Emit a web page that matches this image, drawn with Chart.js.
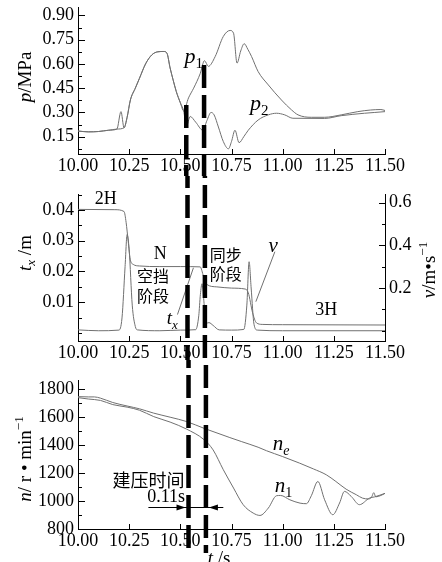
<!DOCTYPE html>
<html>
<head>
<meta charset="utf-8">
<script src="https://cdn.jsdelivr.net/npm/chart.js@4.4.0/dist/chart.umd.min.js"></script>
<style>
html, body { margin: 0; padding: 0; background: #fff; }
#wrap { position: relative; width: 442px; height: 562px; overflow: hidden; }
canvas { position: absolute; left: 0; }
</style>
</head>
<body>
<div id="wrap">
  <canvas id="c1" width="442" height="176" style="top:0px"></canvas>
  <canvas id="c2" width="442" height="184" style="top:176px"></canvas>
  <canvas id="c3" width="442" height="202" style="top:360px"></canvas>
</div>
<script>
// ---- data ----
// top panel: oil pressure p1 / p2 (MPa)
const p1Time = [10.00, 10.05, 10.10, 10.15, 10.19, 10.225, 10.24, 10.256, 10.28, 10.30, 10.33, 10.36, 10.39, 10.42, 10.435, 10.45, 10.465, 10.48, 10.50, 10.516,
  10.54, 10.565, 10.597, 10.618, 10.637, 10.67, 10.71, 10.743, 10.76, 10.777, 10.795, 10.812, 10.83, 10.848, 10.88, 10.93, 10.994, 11.043, 11.075, 11.14, 11.205, 11.286, 11.367, 11.43, 11.48, 11.50];
const p1Vals = [0.185, 0.18, 0.182, 0.19, 0.197, 0.205, 0.27, 0.377, 0.45, 0.51, 0.60, 0.655, 0.675, 0.677, 0.665, 0.575, 0.50, 0.43, 0.36, 0.31,
  0.39, 0.45, 0.54, 0.62, 0.585, 0.645, 0.77, 0.807, 0.79, 0.605, 0.68, 0.725, 0.69, 0.646, 0.553, 0.47, 0.377, 0.316, 0.285, 0.27, 0.27, 0.285, 0.305, 0.315, 0.318, 0.312];
const p2Time = [10.00, 10.05, 10.10, 10.15, 10.19, 10.21, 10.225, 10.24, 10.256, 10.28, 10.30, 10.33, 10.36, 10.39, 10.42, 10.435, 10.45, 10.465, 10.48, 10.50, 10.516,
  10.53, 10.548, 10.575, 10.61, 10.63, 10.65, 10.665, 10.686, 10.71, 10.735, 10.75, 10.767, 10.787, 10.81, 10.832, 10.88, 10.93, 10.97, 11.01, 11.05, 11.205, 11.286, 11.40, 11.45, 11.50];
const p2Vals = [0.185, 0.18, 0.182, 0.19, 0.197, 0.305, 0.205, 0.27, 0.377, 0.45, 0.51, 0.60, 0.655, 0.675, 0.677, 0.665, 0.575, 0.50, 0.43, 0.36, 0.31,
  0.215, 0.275, 0.24, 0.19, 0.25, 0.30, 0.285, 0.21, 0.12, 0.075, 0.12, 0.19, 0.113, 0.15, 0.19, 0.253, 0.285, 0.295, 0.285, 0.264, 0.263, 0.28, 0.295, 0.30, 0.305];

// middle panel: fork travel tx (m) and fork speed v (m/s)
const txTime = [10.00, 10.18, 10.225, 10.235, 10.245, 10.255, 10.27, 10.30, 10.40, 10.50, 10.597, 10.613, 10.629, 10.678, 10.75, 10.816, 10.832, 10.853, 10.872, 10.90, 11.00, 11.50];
const txVals = [0.0402, 0.0401, 0.0395, 0.036, 0.030, 0.024, 0.0223, 0.0218, 0.0216, 0.0216, 0.0215, 0.0185, 0.0158, 0.015, 0.0146, 0.0143, 0.0131, 0.0066, 0.0033, 0.0028, 0.0027, 0.0026];
const vTime = [10.00, 10.10, 10.20, 10.215, 10.23, 10.24, 10.25, 10.265, 10.28, 10.29, 10.40, 10.50, 10.575, 10.59, 10.598, 10.606, 10.614, 10.625, 10.64, 10.66, 10.69, 10.75, 10.81, 10.825, 10.836, 10.846, 10.86, 10.876, 11.00, 11.50];
const vVals = [0.004, 0.0, 0.003, 0.06, 0.30, 0.45, 0.38, 0.12, 0.02, 0.004, 0.0, 0.003, 0.005, 0.07, 0.17, 0.22, 0.15, 0.035, 0.038, 0.025, 0.004, 0.003, 0.006, 0.12, 0.323, 0.20, 0.03, 0.003, 0.0, 0.0];

// bottom panel: engine speed ne and input shaft speed n1 (r/min)
const neTime = [10.00, 10.05, 10.08, 10.11, 10.17, 10.24, 10.30, 10.37, 10.45, 10.53, 10.62, 10.742, 10.80, 10.88, 10.921, 11.00, 11.083, 11.15, 11.213, 11.26, 11.31, 11.36, 11.39, 11.42, 11.435, 11.445, 11.455, 11.48, 11.50];
const neVals = [1747, 1745, 1745, 1736, 1705, 1680, 1660, 1629, 1600, 1569, 1518, 1454, 1425, 1385, 1360, 1318, 1271, 1230, 1188, 1140, 1085, 1045, 1021, 1015, 1030, 1060, 1030, 1040, 1055];
const n1Time = [10.00, 10.05, 10.11, 10.17, 10.24, 10.30, 10.37, 10.45, 10.53, 10.615, 10.66, 10.71, 10.76, 10.807, 10.856, 10.889, 10.93, 10.97, 10.99, 11.035, 11.085, 11.116, 11.14, 11.172, 11.205, 11.245, 11.278, 11.302, 11.335, 11.375, 11.424, 11.45, 11.50];
const n1Vals = [1740, 1730, 1720, 1690, 1672, 1650, 1604, 1565, 1515, 1440, 1366, 1224, 1093, 974, 914, 897, 950, 1038, 1040, 1009, 985, 981, 1038, 1140, 1009, 902, 986, 1069, 1033, 974, 1021, 1030, 1055];

// tick labels
const tTicks = [10.00, 10.25, 10.50, 10.75, 11.00, 11.25, 11.50];
const pTicks = [0.15, 0.30, 0.45, 0.60, 0.75, 0.90];
const pMinor = [0.075, 0.225, 0.375, 0.525, 0.675, 0.825];
const txTicks = [0.01, 0.02, 0.03, 0.04];
const txMinor = [0, 0.005, 0.015, 0.025, 0.035, 0.045];
const vTicks = [0.2, 0.4, 0.6];
const vMinor = [0, 0.1, 0.3, 0.5];
const nTicks = [800, 1000, 1200, 1400, 1600, 1800];
const nMinor = [900, 1100, 1300, 1500, 1700];

// the two moments marked by the thick dashed lines (s)
const markTimes = [[10.529, 10.616], [10.535, 10.62], [10.54, 10.625]];

const SERIF = '"Liberation Serif", "Times New Roman", serif';
const CJK = '"Noto Sans CJK SC", sans-serif';
const LINE = '#707070';

Chart.defaults.font.family = SERIF;
Chart.defaults.color = '#000';

const pts = (ts, vs) => ts.map((t, i) => ({ x: t, y: vs[i] }));

function ds(ts, vs, axis) {
  return {
    data: pts(ts, vs), yAxisID: axis,
    borderColor: LINE, borderWidth: 1, pointRadius: 0,
    cubicInterpolationMode: 'monotone', fill: false
  };
}

function xScale(h) {
  return {
    type: 'linear', min: 10, max: 11.5,
    grid: { drawOnChartArea: false, drawTicks: false },
    border: { color: '#000', width: 1 },
    ticks: { font: { size: 18 }, color: '#000', padding: 1, maxRotation: 0, autoSkip: false, callback: v => v.toFixed(2) },
    afterBuildTicks: s => { s.ticks = tTicks.map(v => ({ value: v })); },
    afterFit: s => { s.height = h; s.paddingLeft = 0; s.paddingRight = 0; }
  };
}

function yScale(pos, min, max, ticks, fmt, w) {
  return {
    type: 'linear', position: pos, min: min, max: max,
    grid: { drawOnChartArea: false, drawTicks: false },
    border: { color: '#000', width: 1 },
    ticks: { font: { size: 18 }, color: '#000', padding: 4, callback: fmt },
    afterBuildTicks: s => { s.ticks = ticks.map(v => ({ value: v })); },
    afterFit: s => { s.width = w; s.paddingTop = 0; s.paddingBottom = 0; }
  };
}

// draw a string made of parts (italic / subscript / superscript), vertically centred on y
function rich(ctx, parts, x, y, size, align) {
  const fonts = parts.map(p => {
    const s = (p.sub || p.sup) ? Math.round(size * 0.68) : size;
    return (p.it ? 'italic ' : '') + s + 'px ' + (p.cjk ? CJK : SERIF);
  });
  let w = 0;
  const ws = parts.map((p, i) => { ctx.font = fonts[i]; const m = ctx.measureText(p.t).width; w += m; return m; });
  let cx = align === 'center' ? x - w / 2 : x;
  ctx.textAlign = 'left';
  ctx.textBaseline = 'middle';
  parts.forEach((p, i) => {
    ctx.font = fonts[i];
    const dy = p.sub ? size * 0.3 : (p.sup ? -size * 0.35 : 0);
    ctx.fillText(p.t, cx, y + dy);
    cx += ws[i];
  });
}

const dashStart = [];

const decor = {
  id: 'decor',
  afterDraw(chart, args, o) {
    const ctx = chart.ctx, area = chart.chartArea, xs = chart.scales.x;
    ctx.save();

    // inward tick marks
    ctx.strokeStyle = '#000';
    ctx.lineWidth = 1;
    Object.keys(chart.scales).forEach(id => {
      const s = chart.scales[id];
      const mark = (v, len) => {
        const p = Math.round(s.getPixelForValue(v)) + 0.5;
        ctx.beginPath();
        if (s.isHorizontal()) { ctx.moveTo(p, area.bottom); ctx.lineTo(p, area.bottom - len); }
        else if (s.position === 'left') { ctx.moveTo(area.left, p); ctx.lineTo(area.left + len, p); }
        else { ctx.moveTo(area.right, p); ctx.lineTo(area.right - len, p); }
        ctx.stroke();
      };
      const major = s.isHorizontal() ? 5 : (s.position === 'left' ? 7 : 6);
      s.ticks.forEach(t => mark(t.value, major));
      ((o.minor && o.minor[id]) || []).forEach(v => mark(v, s.position === 'left' ? 4 : 3));
    });

    // leader lines
    ctx.strokeStyle = LINE;
    (o.leaders || []).forEach(l => {
      const ys = chart.scales[l.axis];
      ctx.beginPath();
      ctx.moveTo(xs.getPixelForValue(l.x1), ys.getPixelForValue(l.y1));
      ctx.lineTo(xs.getPixelForValue(l.x2), ys.getPixelForValue(l.y2));
      ctx.stroke();
    });

    // curve names and notes
    ctx.fillStyle = '#000';
    (o.texts || []).forEach(t => {
      const ys = chart.scales[t.axis || 'y'];
      rich(ctx, t.parts, xs.getPixelForValue(t.x), ys.getPixelForValue(t.y), t.size, t.align || 'center');
    });

    // axis titles
    (o.titles || []).forEach(t => {
      ctx.save();
      ctx.translate(t.x, t.y);
      if (t.rot) ctx.rotate(t.rot);
      rich(ctx, t.parts, 0, 0, t.size, 'center');
      ctx.restore();
    });

    // build-up time arrows
    if (o.arrow) {
      const a = o.arrow, ys = chart.scales.y;
      const y = Math.round(ys.getPixelForValue(a.y)) + 0.5;
      const tl = xs.getPixelForValue(a.tipL) - 3, tr = xs.getPixelForValue(a.tipR) + 3;
      ctx.strokeStyle = '#000';
      ctx.beginPath();
      ctx.moveTo(xs.getPixelForValue(a.from), y);
      ctx.lineTo(xs.getPixelForValue(a.to), y);
      ctx.stroke();
      ctx.beginPath();
      ctx.moveTo(tl, y); ctx.lineTo(tl - 9, y - 3); ctx.lineTo(tl - 9, y + 3); ctx.closePath();
      ctx.moveTo(tr, y); ctx.lineTo(tr + 9, y - 3); ctx.lineTo(tr + 9, y + 3); ctx.closePath();
      ctx.fill();
    }

    // thick dashed marker lines
    ctx.strokeStyle = '#000';
    ctx.lineWidth = 4.5;
    ctx.lineCap = 'butt';
    ctx.setLineDash([23, 7]);
    o.dash.times.forEach((t, i) => {
      const x = xs.getPixelForValue(t);
      const y0 = o.dash.from ? chart.scales.y.getPixelForValue(o.dash.from[i]) : 0;
      if (dashStart[i] === undefined) dashStart[i] = o.pageTop + y0;
      ctx.lineDashOffset = o.pageTop + y0 - dashStart[i];
      ctx.beginPath();
      ctx.moveTo(x, y0);
      ctx.lineTo(x, chart.height - (o.dash.endGap || 0));
      ctx.stroke();
    });
    ctx.restore();
  }
};

function baseOptions(top, right, scales, decorOpts) {
  return {
    responsive: false, animation: false, devicePixelRatio: 1,
    layout: { padding: { top: top, right: right, left: 0, bottom: 0 } },
    plugins: { legend: { display: false }, tooltip: { enabled: false }, decor: decorOpts },
    scales: scales
  };
}

const it = t => ({ t: t, it: true });

// ---- top: pressure ----
new Chart(document.getElementById('c1'), {
  type: 'line',
  data: { datasets: [ds(p1Time, p1Vals, 'y'), ds(p2Time, p2Vals, 'y')] },
  options: baseOptions(7, 57, {
    x: xScale(22),
    y: yScale('left', 0.043, 0.952, pTicks, v => v.toFixed(2), 78)
  }, {
    pageTop: 0,
    minor: { y: pMinor },
    dash: { times: markTimes[0], from: [0.346, 0.594] },
    texts: [
      { x: 10.52, y: 0.64, align: 'left', size: 22, parts: [it('p'), { t: '1', sub: true }] },
      { x: 10.841, y: 0.35, align: 'left', size: 22, parts: [it('p'), { t: '2', sub: true }] }
    ],
    titles: [
      { x: 26, y: 77, rot: -Math.PI / 2, size: 19, parts: [it('p'), { t: '/MPa' }] }
    ]
  }),
  plugins: [decor]
});

// ---- middle: travel and speed ----
new Chart(document.getElementById('c2'), {
  type: 'line',
  data: { datasets: [ds(txTime, txVals, 'y'), ds(vTime, vVals, 'y2')] },
  options: baseOptions(18, 0, {
    x: xScale(19),
    y: yScale('left', -0.0026, 0.0452, txTicks, v => v.toFixed(2), 78),
    y2: yScale('right', -0.048, 0.64, vTicks, v => v.toFixed(1), 57)
  }, {
    pageTop: 176,
    minor: { y: txMinor, y2: vMinor },
    dash: { times: markTimes[1] },
    leaders: [
      { axis: 'y', x1: 10.486, y1: 0.006, x2: 10.564, y2: 0.0212 },
      { axis: 'y2', x1: 10.962, y1: 0.37, x2: 10.869, y2: 0.136 }
    ],
    texts: [
      { x: 10.135, y: 0.0434, size: 18, parts: [{ t: '2H' }] },
      { x: 10.402, y: 0.0255, size: 18, parts: [{ t: 'N' }] },
      { x: 10.366, y: 0.0185, size: 16, parts: [{ t: '空挡', cjk: true }] },
      { x: 10.366, y: 0.0119, size: 16, parts: [{ t: '阶段', cjk: true }] },
      { x: 10.461, y: 0.0044, size: 19, parts: [it('t'), { t: 'x', it: true, sub: true }] },
      { x: 10.722, y: 0.0255, size: 16, parts: [{ t: '同步', cjk: true }] },
      { x: 10.722, y: 0.0192, size: 16, parts: [{ t: '阶段', cjk: true }] },
      { x: 10.953, y: 0.394, axis: 'y2', size: 21, parts: [it('v')] },
      { x: 11.213, y: 0.0073, size: 18, parts: [{ t: '3H' }] }
    ],
    titles: [
      { x: 26, y: 77, rot: -Math.PI / 2, size: 19, parts: [it('t'), { t: 'x', it: true, sub: true }, { t: ' /m' }] },
      { x: 430, y: 94, rot: -Math.PI / 2, size: 19, parts: [it('v'), { t: '/m•s' }, { t: '−1', sup: true }] }
    ]
  }),
  plugins: [decor]
});

// ---- bottom: speeds ----
new Chart(document.getElementById('c3'), {
  type: 'line',
  data: { datasets: [ds(neTime, neVals, 'y'), ds(n1Time, n1Vals, 'y')] },
  options: baseOptions(20, 57, {
    x: xScale(33),
    y: yScale('left', 800, 1866, nTicks, v => String(v), 78)
  }, {
    pageTop: 360,
    minor: { y: nMinor },
    dash: { times: markTimes[2], endGap: 9 },
    arrow: { y: 954, from: 10.344, to: 10.71, tipL: markTimes[2][0], tipR: markTimes[2][1] },
    texts: [
      { x: 10.952, y: 1402, align: 'left', size: 21, parts: [it('n'), { t: 'e', it: true, sub: true }] },
      { x: 10.961, y: 1102, align: 'left', size: 21, parts: [it('n'), { t: '1', sub: true }] },
      { x: 10.345, y: 1152, size: 18, parts: [{ t: '建压时间', cjk: true }] },
      { x: 10.431, y: 1024, size: 18, parts: [{ t: '0.11s' }] }
    ],
    titles: [
      { x: 26, y: 99, rot: -Math.PI / 2, size: 19, parts: [it('n'), { t: '/ r • min' }, { t: '−1', sup: true }] },
      { x: 219, y: 199, size: 19, parts: [it('t'), { t: ' /s' }] }
    ]
  }),
  plugins: [decor]
});
</script>
</body>
</html>
